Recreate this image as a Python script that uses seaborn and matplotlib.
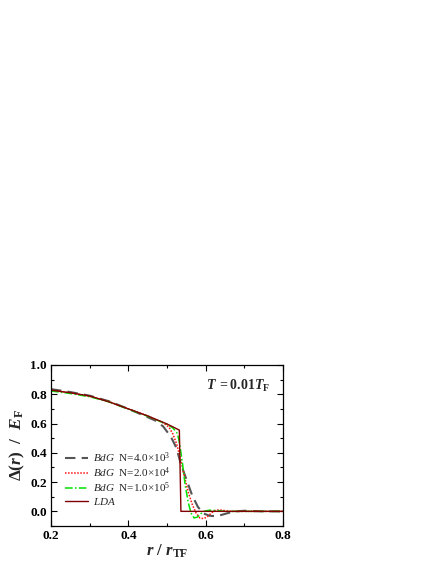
import numpy as np
import pandas as pd
import seaborn as sns
import matplotlib
matplotlib.use("Agg")
import matplotlib.pyplot as plt
from matplotlib.ticker import MultipleLocator

# =========================
# DATA
# =========================
x_bdg1 = [0.20, 0.25, 0.30, 0.35, 0.40, 0.44, 0.47, 0.49, 0.51, 0.525, 0.535,
          0.55, 0.565, 0.58, 0.595, 0.61, 0.625, 0.64, 0.66, 0.68, 0.70, 0.72, 0.75, 0.80]
y_bdg1 = [0.835, 0.815, 0.790, 0.752, 0.700, 0.655, 0.620, 0.580, 0.510, 0.430, 0.330,
          0.220, 0.110, 0.030, -0.015, -0.030, -0.033, -0.025, -0.010, 0.000, 0.004, 0.002, 0.000, 0.000]

x_bdg2 = [0.20, 0.25, 0.30, 0.35, 0.40, 0.45, 0.49, 0.505, 0.515, 0.525, 0.535, 0.545,
          0.555, 0.565, 0.575, 0.585, 0.595, 0.605, 0.615, 0.625, 0.635, 0.645, 0.66, 0.70, 0.80]
y_bdg2 = [0.828, 0.810, 0.786, 0.750, 0.700, 0.652, 0.605, 0.575, 0.530, 0.460, 0.360, 0.240,
          0.130, 0.050, -0.010, -0.045, -0.050, -0.035, -0.010, 0.006, 0.010, 0.007, 0.000, 0.000, 0.000]

x_bdg3 = [0.20, 0.25, 0.30, 0.35, 0.40, 0.45, 0.50, 0.515, 0.525, 0.530, 0.535, 0.540,
          0.547, 0.555, 0.562, 0.570, 0.578, 0.588, 0.598, 0.61, 0.63, 0.65, 0.80]
y_bdg3 = [0.822, 0.805, 0.783, 0.748, 0.698, 0.650, 0.595, 0.570, 0.540, 0.500, 0.420, 0.330,
          0.180, 0.060, -0.010, -0.045, -0.040, -0.015, 0.002, 0.008, 0.005, 0.000, 0.000]

x_lda = [0.20, 0.25, 0.30, 0.35, 0.40, 0.45, 0.50, 0.532, 0.536, 0.80]
y_lda = [0.828, 0.810, 0.788, 0.748, 0.700, 0.652, 0.597, 0.555, 0.000, 0.000]

labels = [r"$\mathit{BdG}$  N=4.0$\times$10$^{3}$",
          r"$\mathit{BdG}$  N=2.0$\times$10$^{4}$",
          r"$\mathit{BdG}$  N=1.0$\times$10$^{5}$",
          r"$\mathit{LDA}$"]

# =========================
# STYLE
# =========================
sns.set_theme(style="ticks")
plt.rcParams['font.family'] = ['Liberation Serif', 'DejaVu Serif']
plt.rcParams['mathtext.fontset'] = 'custom'
plt.rcParams['mathtext.rm'] = 'Liberation Serif'
plt.rcParams['mathtext.it'] = 'Liberation Serif:italic'
plt.rcParams['mathtext.bf'] = 'Liberation Serif:bold'
plt.rcParams['mathtext.bfit'] = 'Liberation Serif:bold:italic'

fig = plt.figure(figsize=(4.36, 5.64), dpi=100)
ax = fig.add_axes([0.117, 0.0674, 0.532, 0.2855])

series = [
    (x_bdg1, y_bdg1, '#555555', (0, (5, 3)), 1.5),
    (x_bdg2, y_bdg2, '#ff1010', (0, (1, 1)), 1.1),
    (x_bdg3, y_bdg3, '#00e000', (0, (5, 1.5, 1, 1.5)), 1.1),
    (x_lda, y_lda, '#800000', '-', 1.0),
]
for (xs, ys, col, ls, lw), lab in zip(series, labels):
    df = pd.DataFrame({'x': xs, 'y': ys})
    sns.lineplot(data=df, x='x', y='y', ax=ax, color=col, linestyle=ls,
                 linewidth=lw, label=lab, estimator=None, sort=False)

ax.set_xlim(0.2, 0.8)
ax.set_ylim(-0.1, 1.0)
ax.xaxis.set_major_locator(MultipleLocator(0.2))
ax.xaxis.set_minor_locator(MultipleLocator(0.1))
ax.yaxis.set_major_locator(MultipleLocator(0.2))
ax.yaxis.set_minor_locator(MultipleLocator(0.1))
ax.tick_params(which='both', direction='in', top=True, right=True, width=0.8,
               colors='black')
ax.tick_params(which='major', length=4, labelsize=9.5, pad=3)
ax.tick_params(which='minor', length=2.2)
for lbl in ax.get_xticklabels() + ax.get_yticklabels():
    lbl.set_fontweight('bold')
for sp in ax.spines.values():
    sp.set_linewidth(0.9)
    sp.set_color('black')

ax.set_xlabel(r"$\mathbfit{r}$ $\mathbf{/}$ $\mathbfit{r}_{\mathbf{TF}}$", fontsize=12, labelpad=0)
ax.set_ylabel(r"$\mathbf{\Delta(}\mathbfit{r}\mathbf{)}$  $\mathbf{/}$  $\mathbfit{E}_{\mathbf{F}}$",
              fontsize=12.5, labelpad=2)

ax.text(0.945, 0.87, r"$\mathbfit{T}$ $\mathbf{= 0.01}\mathbfit{T}_{\mathbf{F}}$",
        transform=ax.transAxes, ha='right', va='center', fontsize=10)

ax.legend(loc='lower left', bbox_to_anchor=(0.04, 0.092), frameon=False, fontsize=8,
          handlelength=2.1, handletextpad=0.4, labelspacing=0.05, borderaxespad=0.0)

fig.savefig("out.png", dpi=100)
